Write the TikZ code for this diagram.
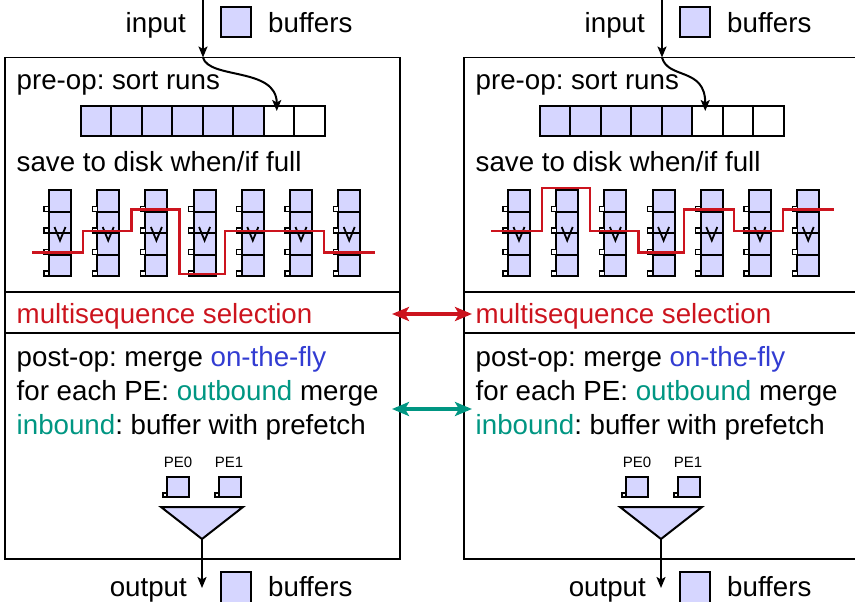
\documentclass[tikz,border=0pt]{standalone}
\usepackage{fontspec}
\setmainfont{Liberation Sans}
\usetikzlibrary{arrows.meta}
\definecolor{bufblue}{RGB}{214,214,255}
\definecolor{selred}{RGB}{204,20,30}
\definecolor{kitgreen}{RGB}{0,150,130}
\definecolor{flyblue}{RGB}{50,60,210}
\frenchspacing

\tikzset{
  txt/.style={inner sep=0pt, anchor=base west, font=\fontsize{27.7}{34}\selectfont},
  petxt/.style={inner sep=0pt, anchor=base, font=\fontsize{15}{17}\selectfont},
  frame/.style={draw, line width=1.6pt},
  bufcell/.style={draw, line width=2pt, inner sep=0pt, minimum width=30.5pt, minimum height=30pt},
  runcell/.style={draw, line width=2pt, fill=bufblue},
  tag/.style={draw, line width=1.3pt, fill=white},
  flow/.style={line width=2pt, -{Stealth[length=11pt,width=9pt,inset=2.5pt]}},
  selline/.style={selred, line width=2.8pt},
  link/.style={line width=4pt, {Stealth[length=17pt,width=14pt,inset=4pt]}-{Stealth[length=17pt,width=14pt,inset=4pt]}},
}

% #1 name prefix, #2 horizontal shift, #3 filled run-buffer cells,
% #4 path of the selection line
\newcommand\sorterpanel[4]{%
\begin{scope}[shift={(#2,0)}, name prefix=#1-]
  % frame with the three sections
  \draw[frame] (5,57.5) rectangle (400,559);
  \draw[frame] (5,292) -- (400,292);
  \draw[frame] (5,333) -- (400,333);
  % input / output legends
  \node[txt, anchor=base east] (input) at (186,33) {input};
  \node[runcell, minimum width=30pt, minimum height=30pt, inner sep=0pt] (inbuf) at (235.5,22) {};
  \node[txt] (inbuflabel) at (268,33) {buffers};
  \node[txt, anchor=base east] (output) at (187,596.5) {output};
  \node[runcell, minimum width=30pt, minimum height=32pt, inner sep=0pt] (outbuf) at (235.5,588) {};
  \node[txt] (outbuflabel) at (268,596.5) {buffers};
  % section texts
  \node[txt] (pre) at (16.5,90) {pre-op: sort runs};
  \node[txt] (save) at (16.5,171) {save to disk when/if full};
  \node[txt, text=selred] (msel) at (16.5,323.5) {multisequence selection};
  \node[txt] (post) at (16.5,366.5) {post-op: merge \textcolor{flyblue}{on-the-fly}};
  \node[txt] (foreach) at (16.5,400.5) {for each PE: \textcolor{kitgreen}{outbound} merge};
  \node[txt] (inbound) at (16.5,434.5) {\textcolor{kitgreen}{inbound}: buffer with prefetch};
  % run buffer being filled
  \foreach \i in {1,...,8} {
    \ifnum\i>#3 \def\cellfill{white}\else\def\cellfill{bufblue}\fi
    \node[bufcell, fill=\cellfill] (cell\i) at ({80.5+15.25+30.5*(\i-1)},121) {};
  }
  \pgfmathtruncatemacro\nextcell{#3+1}
  \coordinate (top) at (203,0);
  \coordinate (entry) at (203,57.5);
  \coordinate (tip) at ([xshift=-2pt,yshift=-6pt]cell\nextcell.north);
  \draw[flow] (top) -- (entry);
  \draw[flow] (entry) .. controls +(6,22) and +(0,-44) .. (tip);
  % sorted runs saved to disk
  \foreach \j in {1,...,7} {
    \pgfmathsetmacro\cl{49+48.2*(\j-1)}
    \foreach \k in {1,...,4} {
      \draw[runcell] (\cl,{190+21.5*(\k-1)}) rectangle ({\cl+22},{190+21.5*\k});
      \draw[tag] ({\cl-5},{190+21.5*\k-5}) rectangle (\cl,{190+21.5*\k});
    }
    \draw[line width=1.8pt] ({\cl+5.5},227) -- ({\cl+11},240.5) -- ({\cl+16.5},227);
  }
  \draw[selline] #4;
  % merging the two PE buffers
  \node[petxt] (pe0) at (178,467) {PE0};
  \node[petxt] (pe1) at (229,467) {PE1};
  \draw[runcell] (167,477) rectangle (189,497);
  \draw[tag] (163,493) rectangle (167,497);
  \draw[runcell] (219,477) rectangle (241,497);
  \draw[tag] (215,493) rectangle (219,497);
  \coordinate (apex) at (202,539);
  \coordinate (outtip) at (202,588);
  \draw[runcell, line join=miter] (161,507) -- (243,507) -- (apex) -- cycle;
  \draw[flow] (apex) -- (outtip);
\end{scope}}

\begin{document}
\begin{tikzpicture}[x=1pt,y=-1pt]
\useasboundingbox (0,0) rectangle (855,602);
\sorterpanel{L}{0}{6}{(32,252.5) -- (83,252.5) -- (83,231) -- (131.5,231) -- (131.5,209.5) -- (179.5,209.5) -- (179.5,274) -- (225,274) -- (225,231) -- (324,231) -- (324,252.5) -- (375,252.5)}
\sorterpanel{R}{459}{5}{(32,231) -- (83,231) -- (83,188) -- (131,188) -- (131,231) -- (179.5,231) -- (179.5,252.5) -- (225,252.5) -- (225,209.5) -- (275,209.5) -- (275,231) -- (324,231) -- (324,209.5) -- (375,209.5)}
% exchanges between the two PEs
\coordinate (selL) at (392,314);
\coordinate (selR) at (472,314);
\coordinate (msgL) at (392,409);
\coordinate (msgR) at (472,409);
\draw[link, selred] (selL) -- (selR);
\draw[link, kitgreen] (msgL) -- (msgR);
\end{tikzpicture}
\end{document}
